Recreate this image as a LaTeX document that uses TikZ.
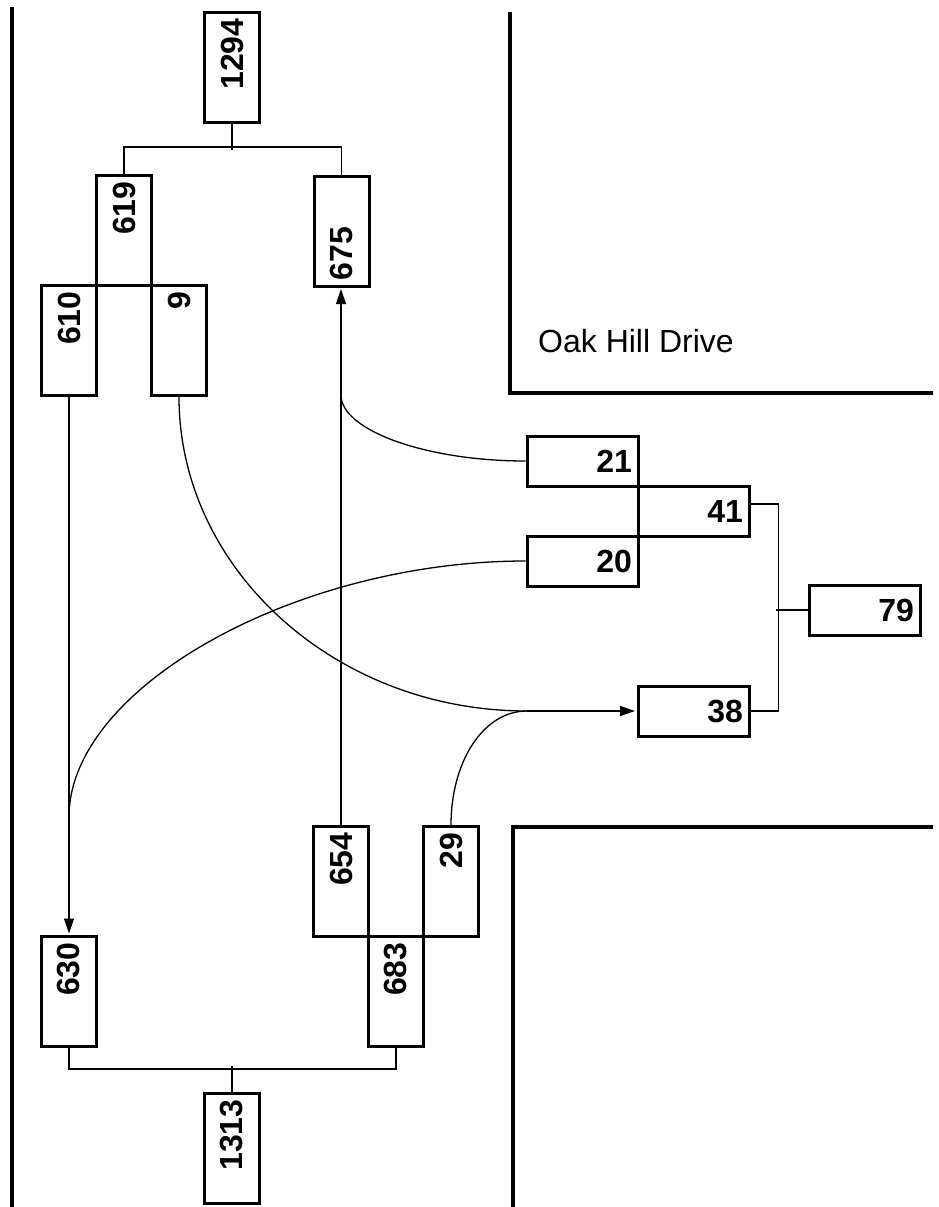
\documentclass[tikz,border=0pt]{standalone}
\usepackage{fontspec}
\setmainfont{Liberation Sans}
\usetikzlibrary{arrows.meta}
\tikzset{
  vbox/.style={draw, line width=3pt, rotate=90, minimum width=110pt, minimum height=55pt,
    inner xsep=6pt, inner ysep=0pt, text width=98pt, align=right,
    font=\fontsize{32}{38}\selectfont\bfseries},
  vboxl/.style={vbox, align=left},
  hbox/.style={draw, line width=3pt, minimum width=111pt, minimum height=50pt,
    inner xsep=6pt, inner ysep=0pt, text width=99pt, align=right,
    font=\fontsize{32}{38}\selectfont\bfseries},
  conn/.style={line width=1.3pt},
  arr/.style={conn, -{Triangle[length=15pt,width=10pt]}, shorten >=1.5pt},
  road/.style={line width=3.2pt},
  street/.style={font=\fontsize{32}{38}\selectfont, inner sep=0pt, anchor=base west}
}
\begin{document}
\begin{tikzpicture}[x=1pt,y=1pt]
\useasboundingbox (0,0) rectangle (939,-1207);
% roads
\draw[road] (12,-7) -- (12,-1207);
\draw[road] (510,-12) -- (510,-393) -- (933,-393);
\draw[road] (933,-827) -- (513,-827) -- (513,-1207);
\node[street] (oak) at (538,-352) {Oak Hill Drive};
% vertical boxes
\node[vbox] (n1294) at (232,-67.5) {1294};
\node[vbox] (n619) at (124,-230.5) {619};
\node[vboxl] (n675) at (341.5,-231) {675};
\node[vbox] (n610) at (69,-340.5) {610};
\node[vbox] (n9) at (179,-340.5) {9};
\node[vbox] (n654) at (341,-881.5) {654};
\node[vbox] (n29) at (451,-881.5) {29};
\node[vbox] (n683) at (396,-991.5) {683};
\node[vbox] (n630) at (69,-991.5) {630};
\node[vbox] (n1313) at (232,-1148.5) {1313};
% horizontal boxes
\node[hbox] (n21) at (582.5,-461) {21};
\node[hbox] (n41) at (693.5,-511) {41};
\node[hbox] (n20) at (582.5,-561) {20};
\node[hbox] (n79) at (864.5,-610) {79};
\node[hbox] (n38) at (693.5,-711) {38};
% junction points
\coordinate (j21) at (341,-395);
\coordinate (j20) at (69,-817);
\coordinate (j38) at (527,-711);
% tree connectors
\draw[conn] (n1294.west) -- ++(0,-26);
\draw[conn] (n619.east) -- ++(0,27) -| (n675.east);
\draw[conn] (n630.west) -- ++(0,-21) -| (n683.west);
\draw[conn] (n1313.east) -- ++(0,26);
\draw[conn] ([yshift=7pt]n41.east) -- ++(28,0) |- (n38.east);
\draw[conn] (n79.west) -- ++(-32,0);
% arrows
\draw[arr] (n610.west) -- (n630.east);
\draw[arr] (n654.east) -- (n654.east |- n675.west);
\draw[arr] (j38) -- (n38.west);
% curves
\draw[conn] (n21.west) .. controls (425,-461) and (341,-430) .. (j21);
\draw[conn] (n20.west) .. controls (297,-561) and (69,-687) .. (j20);
\draw[conn] (n9.west) .. controls (179,-568) and (334,-711) .. (j38);
\draw[conn] (n29.east) .. controls (451,-762) and (483,-711) .. (j38);
\end{tikzpicture}
\end{document}
